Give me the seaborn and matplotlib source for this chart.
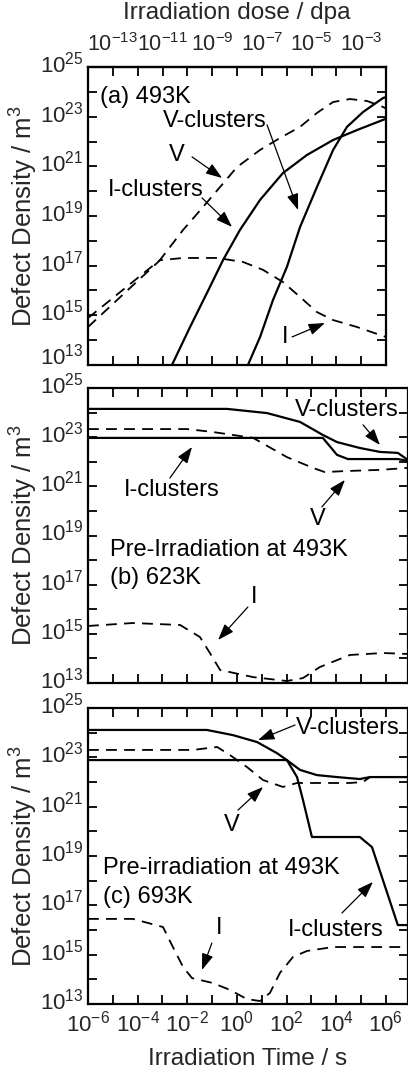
import numpy as np
import pandas as pd
import matplotlib
matplotlib.use("Agg")
import matplotlib.pyplot as plt
import matplotlib.transforms as mtransforms
import seaborn as sns
from matplotlib.ticker import FixedLocator, FuncFormatter, NullLocator

# ---------------- data (log10 time [s], log10 density) ----------------
# panel (a) 493K
a_V_t = [-6, -3.50, -3.10, -2.17, -1.37, -0.68, 0.0, 0.93, 1.73, 2.54, 3.22, 3.87, 4.55, 5.24, 5.88, 6.0]
a_V_n = [14.89, 16.91, 17.23, 18.44, 19.36, 20.17, 20.97, 21.66, 22.14, 22.59, 23.15, 23.59, 23.71, 23.63, 23.39, 23.33]
a_I_t = [-6, -3.50, -3.10, -2.17, -0.80, 0.24, 1.05, 1.85, 2.54, 3.22, 3.87, 4.83, 5.76, 6.0]
a_I_n = [14.53, 16.85, 17.22, 17.31, 17.31, 17.15, 16.83, 16.34, 15.74, 15.13, 14.81, 14.53, 14.21, 14.13]
a_Icl_t = [-2.62, -1.89, -1.21, -0.56, 0.12, 0.93, 1.85, 2.82, 3.87, 4.83, 5.88, 6.0]
a_Icl_n = [13.0, 14.53, 15.90, 17.23, 18.44, 19.65, 20.73, 21.46, 22.06, 22.46, 22.87, 22.91]
a_Vcl_t = [0.44, 0.93, 1.45, 2.01, 2.54, 3.22, 3.87, 4.43, 5.08, 5.88, 6.0]
a_Vcl_n = [13.0, 14.13, 15.62, 16.95, 18.56, 20.17, 21.66, 22.59, 23.19, 23.75, 23.79]

# panel (b) 623K after pre-irradiation at 493K
b_V_t = [-6, -2.01, -0.97, 0.65, 2.01, 3.06, 3.54, 4.35, 5.76, 6.89]
b_V_n = [23.33, 23.33, 23.21, 22.97, 22.19, 21.75, 21.58, 21.62, 21.67, 21.75]
b_I_t = [-6, -4.19, -2.29, -1.49, -1.09, -0.68, 0.65, 2.01, 2.66, 3.34, 4.55, 5.88, 6.89]
b_I_n = [15.32, 15.44, 15.36, 14.87, 14.22, 13.53, 13.24, 13.08, 13.20, 13.65, 14.14, 14.22, 14.18]
b_Vcl_t = [-6, -0.40, 1.21, 2.54, 3.46, 4.03, 4.95, 5.76, 6.48, 6.89]
b_Vcl_n = [24.15, 24.15, 23.98, 23.62, 23.09, 22.80, 22.56, 22.40, 22.36, 22.07]
b_Icl_t = [-6, 3.46, 4.03, 4.47, 6.48, 6.89]
b_Icl_n = [22.97, 22.97, 22.28, 22.11, 22.11, 22.03]

# panel (c) 693K after pre-irradiation at 493K
c_V_t = [-6, -1.77, -0.80, -0.28, 0.40, 1.05, 1.85, 2.42, 4.55, 5.08, 5.36, 6.89]
c_V_n = [23.30, 23.30, 23.42, 23.09, 22.61, 22.08, 21.80, 21.96, 21.96, 22.00, 22.20, 22.20]
c_I_t = [-6, -4.19, -2.98, -2.58, -2.17, -1.81, -0.97, -0.28, 0.40, 0.93, 1.33, 1.73, 2.26, 2.82, 3.87, 6.89]
c_I_n = [16.45, 16.45, 16.12, 15.31, 14.50, 14.05, 13.85, 13.57, 13.20, 13.12, 13.45, 14.26, 14.91, 15.15, 15.31, 15.31]
c_Vcl_t = [-6, -1.21, -0.16, 0.81, 1.61, 2.01, 2.54, 3.22, 4.03, 4.95, 5.36, 6.89]
c_Vcl_n = [24.11, 24.11, 23.90, 23.62, 23.17, 22.89, 22.49, 22.28, 22.20, 22.12, 22.20, 22.20]
c_Icl_t = [-6, 2.01, 2.42, 2.66, 3.02, 4.95, 5.44, 6.48, 6.89]
c_Icl_n = [22.89, 22.89, 22.20, 21.27, 19.77, 19.77, 19.36, 16.20, 16.20]

time_label_exps = [-6, -4, -2, 0, 2, 4, 6]
dose_label_exps = [-13, -11, -9, -7, -5, -3]
density_label_exps = [13, 15, 17, 19, 21, 23, 25]
dose_rate = 1e-8  # dpa/s

# ---------------- style ----------------
sns.set_theme(style="ticks")
plt.rcParams["font.family"] = ["Liberation Sans", "DejaVu Sans"]
plt.rcParams["mathtext.fontset"] = "custom"
plt.rcParams["mathtext.rm"] = "Liberation Sans"
plt.rcParams["mathtext.it"] = "Liberation Sans:italic"
plt.rcParams["mathtext.bf"] = "Liberation Sans:bold"
plt.rcParams["mathtext.default"] = "regular"

W, H = 408, 1072
fig = plt.figure(figsize=(W / 100, H / 100), dpi=100)

def frac(l, r, t, b):
    return [l / W, 1 - b / H, (r - l) / W, (b - t) / H]

ax_a = fig.add_axes(frac(88, 386, 67, 365))
ax_b = fig.add_axes(frac(88, 408, 388, 683))
ax_c = fig.add_axes(frac(88, 408, 708, 1004))

SOLID = dict(color="black", lw=1.6)
DASH = dict(color="black", lw=1.3, linestyle=(0, (6, 4)))

def draw(ax, t, n, style):
    df = pd.DataFrame({"t": 10.0 ** np.array(t), "n": 10.0 ** np.array(n)})
    sns.lineplot(data=df, x="t", y="n", ax=ax, estimator=None, sort=False, **style)

draw(ax_a, a_V_t, a_V_n, DASH)
draw(ax_a, a_I_t, a_I_n, DASH)
draw(ax_a, a_Icl_t, a_Icl_n, SOLID)
draw(ax_a, a_Vcl_t, a_Vcl_n, SOLID)

draw(ax_b, b_V_t, b_V_n, DASH)
draw(ax_b, b_I_t, b_I_n, DASH)
draw(ax_b, b_Vcl_t, b_Vcl_n, SOLID)
draw(ax_b, b_Icl_t, b_Icl_n, SOLID)

draw(ax_c, c_V_t, c_V_n, DASH)
draw(ax_c, c_I_t, c_I_n, DASH)
draw(ax_c, c_Vcl_t, c_Vcl_n, SOLID)
draw(ax_c, c_Icl_t, c_Icl_n, SOLID)

def pow_fmt(allowed):
    def f(v, pos):
        if v <= 0:
            return ""
        e = int(round(np.log10(v)))
        return r"$\mathregular{10^{%d}}$" % e if e in allowed else ""
    return FuncFormatter(f)

TICK = dict(direction="in", length=6.5, width=1.3, labelsize=16, pad=3, color="black")

for ax, xmax in [(ax_a, 6.0), (ax_b, 6.89), (ax_c, 6.89)]:
    ax.set_xscale("log")
    ax.set_yscale("log")
    ax.set_xlim(1e-6, 10 ** xmax)
    ax.set_ylim(1e13, 1e25)
    ax.xaxis.set_major_locator(FixedLocator(10.0 ** np.arange(-6, 8)))
    ax.yaxis.set_major_locator(FixedLocator(10.0 ** np.arange(13, 26)))
    ax.xaxis.set_minor_locator(NullLocator())
    ax.yaxis.set_minor_locator(NullLocator())
    ax.yaxis.set_major_formatter(pow_fmt(density_label_exps))
    ax.xaxis.set_major_formatter(pow_fmt(time_label_exps))
    ax.tick_params(axis="both", which="major", top=True, right=True, **TICK)
    for s in ax.spines.values():
        s.set_linewidth(1.6)
        s.set_color("black")
        s.set_visible(True)
    ax.set_xlabel("")
    ax.set_ylabel("Defect Density / m$^3$", fontsize=18.5)
    wpx = ax.get_position().width * W
    ax.yaxis.set_label_coords(-48 / wpx, 0.5)

ax_a.tick_params(axis="x", labelbottom=False, top=False)
ax_b.tick_params(axis="x", labelbottom=False)
ax_c.tick_params(axis="x", pad=5)
ax_c.set_xlabel("Irradiation Time / s", fontsize=17.5)
ax_c.xaxis.set_label_coords(0.5, -0.15)

secax = ax_a.secondary_xaxis("top", functions=(lambda t: t * dose_rate, lambda d: d / dose_rate))
secax.xaxis.set_major_locator(FixedLocator(10.0 ** np.arange(-14, -1)))
secax.xaxis.set_minor_locator(NullLocator())
secax.xaxis.set_major_formatter(pow_fmt(dose_label_exps))
secax.tick_params(axis="x", **{**TICK, "labelsize": 15.5, "pad": 8})
secax.spines["top"].set_linewidth(1.6)
secax.set_xlabel("Irradiation dose / dpa", fontsize=17.5)
secax.xaxis.set_label_coords(0.5, 1.16, transform=ax_a.transAxes)

# y tick labels sit slightly above their ticks, as in the original figure
def lift(px):
    return mtransforms.ScaledTranslation(0, px / 100, fig.dpi_scale_trans)

for ax in (ax_a, ax_b, ax_c):
    for i, tick in enumerate(ax.yaxis.get_major_ticks()):
        px = 11 if (ax is ax_a and i == 0) else 5
        tick.label1.set_transform(tick.label1.get_transform() + lift(px))

# ---------------- annotations ----------------
def P(lt, ln):
    return (10.0 ** lt, 10.0 ** ln)

FS = 17
AP = dict(arrowstyle="-|>,head_length=0.9,head_width=0.32", lw=0.9, color="black",
          shrinkA=0, shrinkB=0, mutation_scale=11)

def label(ax, text, pos, ha="center"):
    ax.text(*P(*pos), text, fontsize=FS, ha=ha, va="center", color="black")

def arrow(ax, tail, head):
    ax.annotate("", xy=P(*head), xytext=P(*tail), arrowprops=AP)

label(ax_a, "(a) 493K", (-5.52, 23.79), ha="left")
label(ax_a, "V-clusters", (-0.89, 22.83))
arrow(ax_a, (1.21, 22.67), (2.46, 19.24))
label(ax_a, "V", (-2.42, 21.46))
arrow(ax_a, (-1.81, 21.38), (-0.60, 20.53))
label(ax_a, "I-clusters", (-3.26, 20.05))
arrow(ax_a, (-1.41, 19.73), (-0.20, 18.56))
label(ax_a, "I", (1.93, 14.13))
arrow(ax_a, (2.22, 14.13), (3.54, 14.69))

label(ax_b, "V-clusters", (4.43, 24.11))
arrow(ax_b, (5.08, 23.50), (5.76, 22.68))
label(ax_b, "I-clusters", (-2.62, 20.85))
arrow(ax_b, (-2.70, 21.34), (-1.81, 22.60))
label(ax_b, "V", (3.26, 19.67))
arrow(ax_b, (3.42, 20.16), (4.35, 21.26))
label(ax_b, "Pre-Irradiation at 493K", (-5.11, 18.41), ha="left")
label(ax_b, "(b) 623K", (-5.11, 17.27), ha="left")
label(ax_b, "I", (0.69, 16.50))
arrow(ax_b, (0.44, 16.09), (-0.76, 14.75))

label(ax_c, "V-clusters", (4.47, 24.19))
arrow(ax_c, (2.34, 24.31), (0.85, 23.70))
label(ax_c, "V", (-0.20, 20.26))
arrow(ax_c, (0.04, 20.86), (1.05, 21.80))
label(ax_c, "Pre-irradiation at 493K", (-5.40, 18.51), ha="left")
label(ax_c, "(c) 693K", (-5.40, 17.34), ha="left")
label(ax_c, "I", (-0.72, 16.08))
arrow(ax_c, (-1.01, 15.47), (-1.41, 14.38))
label(ax_c, "I-clusters", (3.99, 16.00))
arrow(ax_c, (4.23, 16.69), (5.48, 17.95))

fig.savefig("out.png", dpi=100, facecolor="white")
